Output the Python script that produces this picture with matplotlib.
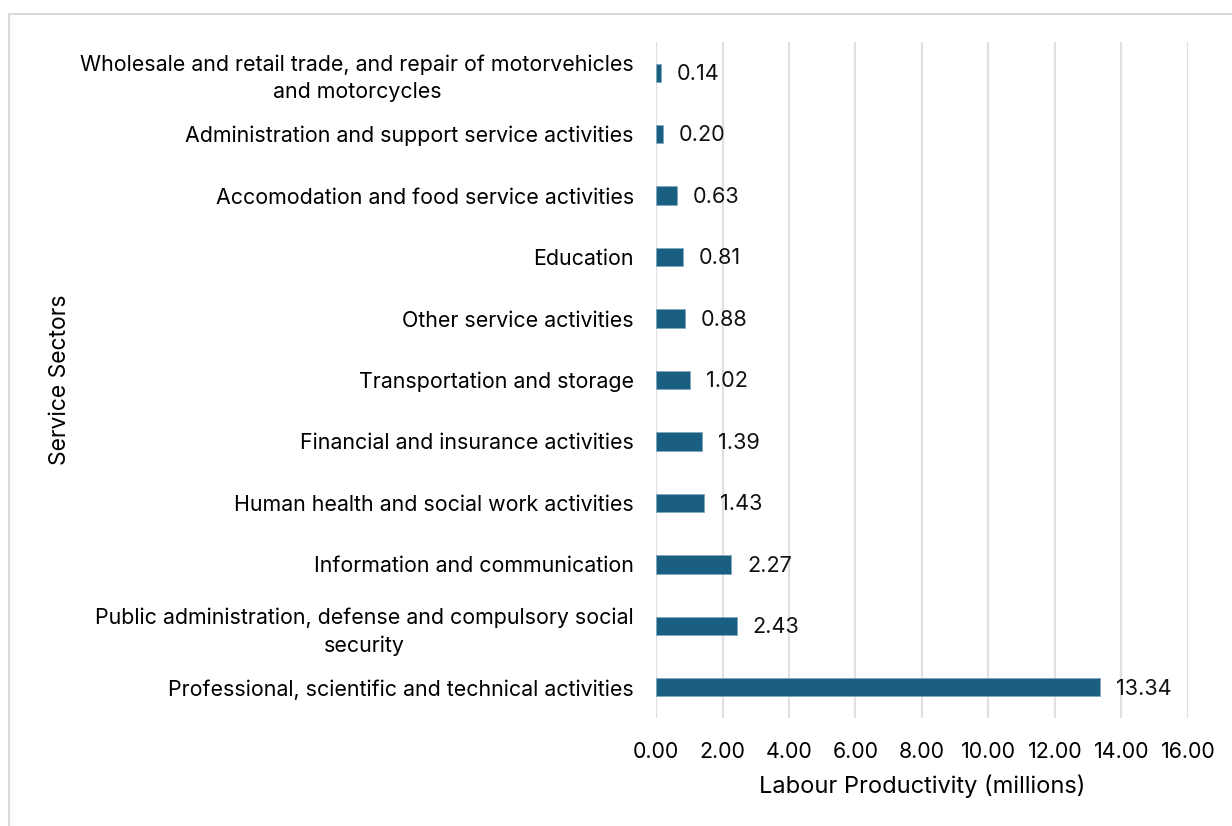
import matplotlib.pyplot as plt
from matplotlib.patches import Rectangle

plt.rcParams['font.family'] = ['Inter', 'DejaVu Sans']

sectors = [
    "Professional, scientific and technical activities",
    "Public administration, defense and compulsory social\nsecurity",
    "Information and communication",
    "Human health and social work activities",
    "Financial and insurance activities",
    "Transportation and storage",
    "Other service activities",
    "Education",
    "Accomodation and food service activities",
    "Administration and support service activities",
    "Wholesale and retail trade, and repair of motorvehicles\nand motorcycles",
]
productivity = [13.34, 2.43, 2.27, 1.43, 1.39, 1.02, 0.88, 0.81, 0.63, 0.20, 0.14]
xticks = [0, 2, 4, 6, 8, 10, 12, 14, 16]

fig = plt.figure(figsize=(12.32, 8.26), dpi=100)
fig.patches.append(Rectangle((9 / 1232, -0.05), 1.1, 1 - 14 / 826 + 0.05,
                             transform=fig.transFigure, fill=False,
                             edgecolor='#d9d9d9', linewidth=1.5))
ax = fig.add_axes([656 / 1232, 1 - 718 / 826, 532 / 1232, 676 / 826])

y = range(len(sectors))
ax.barh(y, productivity, height=0.3, color='#1a5f82', edgecolor='#7fa9bf',
        linewidth=0.6, zorder=3)
for yi, v in zip(y, productivity):
    ax.text(v + 0.48, yi - 0.02, f'{v:.2f}', va='center', ha='left',
            fontsize=15.6, color='#111111')

ax.set_xlim(0, 16)
ax.set_ylim(-0.5, len(sectors) - 0.5)
ax.set_xticks(xticks)
ax.set_xticklabels([f'{t:.2f}' for t in xticks], fontsize=15.4)
ax.set_yticks(list(y))
ax.set_yticklabels(sectors, fontsize=15.4)
ax.tick_params(axis='y', length=0, pad=16)
ax.tick_params(axis='x', length=0, pad=17)
ax.grid(axis='x', color='#e0e0e0', linewidth=1.6, zorder=0)
for s in ax.spines.values():
    s.set_visible(False)

# center the multi-line sector labels in their column
for lab in ax.get_yticklabels():
    lab.set_multialignment('center')
    lab.set_linespacing(1.45)

ax.set_xlabel('Labour Productivity (millions)', fontsize=17, labelpad=9)
fig.text(60 / 1232, 1 - 380 / 826, 'Service Sectors', rotation=90,
         va='center', ha='center', fontsize=16.5)

fig.savefig('out.png', dpi=100)
